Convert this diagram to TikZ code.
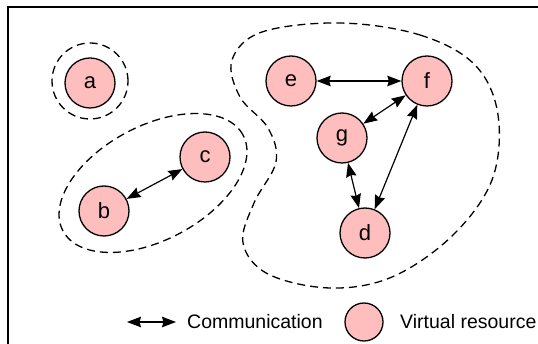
\documentclass[tikz,border=0pt]{standalone}
\usepackage{fontspec}
\setmainfont{Liberation Sans}
\usetikzlibrary{arrows.meta}
\definecolor{respink}{RGB}{255,190,190}
\tikzset{
  res/.style={circle, draw=black, line width=1.3pt, fill=respink, minimum size=50pt, inner sep=0pt, font=\fontsize{22}{24}\selectfont},
  comm/.style={line width=1.2pt, {Stealth[length=14pt,width=10.5pt,inset=1.5pt]}-{Stealth[length=14pt,width=10.5pt,inset=1.5pt]}},
  grp/.style={line width=1.3pt, dash pattern=on 8pt off 5pt},
  legtxt/.style={anchor=west, inner sep=0pt, font=\fontsize{19.5}{22}\selectfont}
}
\begin{document}
\begin{tikzpicture}[x=1pt,y=-1pt]
\useasboundingbox (0,0) rectangle (538,344);
\draw[line width=1.4pt] (8,7) rectangle (548,354);
% groups
\draw[grp] (90,81) circle[radius=38pt];
\draw[grp, rotate around={28:(153,183)}] (153,183) ellipse[x radius=102pt, y radius=57pt];
\draw[grp] plot[smooth cycle, tension=0.6] coordinates {
 (340,23) (420,35) (475,65) (498,115) (492,180) (452,236) (392,277) (330,288)
 (268,274) (243,243) (254,203) (276,162) (268,128) (240,97) (232,60) (262,32)};
% nodes
\node[res] (a) at (90,83) {a};
\node[res] (c) at (205,157) {c};
\node[res] (b) at (104,211) {b};
\node[res] (e) at (291,81) {e};
\node[res] (f) at (427,81) {f};
\node[res] (g) at (342,138) {g};
\node[res] (d) at (365,233) {d};
% connectors
\draw[comm] (b) -- (c);
\draw[comm] (e) -- (f);
\draw[comm] (g) -- (f);
\draw[comm] (f) -- (d);
\draw[comm] (g) -- (d);
% legend
\coordinate (l1) at (127,322);
\coordinate (l2) at (176,322);
\draw[comm] (l1) -- (l2);
\node[legtxt] (lt1) at (187,322) {Communication};
\node[res, minimum size=38pt] (lc) at (364,322) {};
\node[legtxt] (lt2) at (400,322) {Virtual resource};
\end{tikzpicture}
\end{document}
